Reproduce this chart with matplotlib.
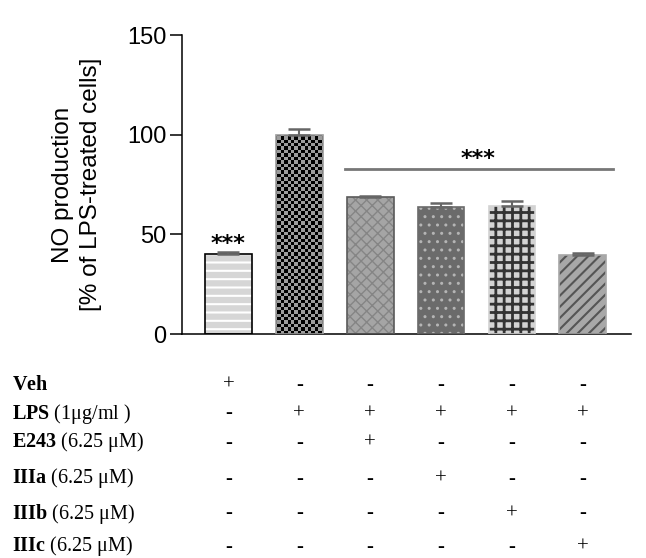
import numpy as np
import matplotlib
matplotlib.use("Agg")
from matplotlib import pyplot as plt
from matplotlib import transforms
from matplotlib.colors import ListedColormap

# values
groups = ["Veh", "LPS", "E243", "IIIa", "IIIb", "IIIc"]
no_prod = [40, 100, 68.8, 63.7, 64.0, 39.6]
err = [1.2, 3.0, 0.3, 1.8, 2.7, 1.1]
row_labels = [r"$\mathbf{Veh}$", r"$\mathbf{LPS}$ (1μg/ml )", r"$\mathbf{E243}$ (6.25 μM)",
              r"$\mathbf{IIIa}$ (6.25 μM)", r"$\mathbf{IIIb}$ (6.25 μM)", r"$\mathbf{IIIc}$ (6.25 μM)"]
signs = [["+", "-", "-", "-", "-", "-"],
         ["-", "+", "+", "+", "+", "+"],
         ["-", "-", "+", "-", "-", "-"],
         ["-", "-", "-", "+", "-", "-"],
         ["-", "-", "-", "-", "+", "-"],
         ["-", "-", "-", "-", "-", "+"]]

plt.rcParams["font.family"] = ["Liberation Sans", "DejaVu Sans"]
plt.rcParams["mathtext.fontset"] = "custom"
plt.rcParams["mathtext.bf"] = "Liberation Serif:bold"
plt.rcParams["mathtext.rm"] = "Liberation Serif"

fig = plt.figure(figsize=(6.46, 5.58), dpi=100)
ax = fig.add_axes([0.2817, 0.4014, 0.6950, 0.5358])
x = np.arange(len(groups))
ax.set_xlim(-0.656, 5.68)
ax.set_ylim(0, 150)

# bar styles: face, hatch, hatch colour, hatch width, outline
styles = [("#d6d6d6", "--", "white", 1.5, "black"),
          ("#9c9c9c", None, None, 1.0, "#9c9c9c"),
          ("#a5a5a5", "xxx", "#858585", 1.0, "#5a5a5a"),
          ("#6b6b6b", "..", "#b5b5b5", 1.0, "#6b6b6b"),
          ("#d3d3d3", "++", "#333333", 2.0, "#d3d3d3"),
          ("#a8a8a8", "///", "#555555", 1.5, "#a8a8a8")]

bars = []
for i, (fc, h, hc, hlw, ec) in enumerate(styles):
    plt.rcParams["hatch.linewidth"] = hlw
    b = ax.bar(x[i], no_prod[i], width=0.66, color=fc, hatch=h,
               edgecolor=hc if hc else fc, linewidth=0, zorder=2)[0]
    ax.bar(x[i], no_prod[i], width=0.66, fill=False, edgecolor=ec, linewidth=1.2, zorder=3)
    bars.append(b)

# checkerboard for LPS bar
ny, nx = 88, 132
chk = np.indices((ny, nx)).sum(axis=0) % 2
im = ax.imshow(chk, cmap=ListedColormap(["#9c9c9c", "#000000"]),
               extent=(*ax.get_xlim(), *ax.get_ylim()), aspect="auto",
               interpolation="nearest", zorder=2.5)
im.set_clip_path(bars[1])
ax.set_xlim(-0.656, 5.68)
ax.set_ylim(0, 150)

ax.errorbar(x, no_prod, yerr=[np.zeros(len(err)), err], fmt="none", ecolor="#666666",
            elinewidth=1.5, capsize=8, capthick=1.8, zorder=4)

# significance marks
ax.plot([x[2] - 0.36, x[5] + 0.42], [83, 83], color="#777777", lw=2, clip_on=False)
ax.text(3.52, 88, "***", ha="center", va="center", fontsize=16, fontweight="bold",
        family="DejaVu Sans")
ax.text(x[0], 45, "***", ha="center", va="center", fontsize=16, fontweight="bold",
        family="DejaVu Sans")

for s in ["top", "right"]:
    ax.spines[s].set_visible(False)
ax.spines["left"].set_linewidth(1.1)
ax.spines["bottom"].set_linewidth(1.1)
ax.set_xticks([])
ax.set_yticks([0, 50, 100, 150])
ax.tick_params(axis="y", length=9, width=1.1, labelsize=17, pad=2)
ax.set_ylabel("NO production\n[% of LPS-treated cells]", fontsize=17.5, linespacing=1.4,
              labelpad=18)

# treatment table under the chart
trans = transforms.blended_transform_factory(ax.transData, fig.transFigure)
baselines = [389.5, 418.5, 447.5, 483.5, 518.5, 551.5]
for r, lab in enumerate(row_labels):
    yb = 1 - baselines[r] / 558
    fig.text(12 / 646, yb, lab, fontsize=14.5, family="Liberation Serif", va="baseline")
    for c, s in enumerate(signs[r]):
        if s == "+":
            ax.text(x[c], yb, "+", transform=trans, ha="center", va="baseline",
                    fontsize=15, family="Liberation Serif", clip_on=False)
        else:
            ax.text(x[c], yb, "-", transform=trans, ha="center", va="baseline",
                    fontsize=15, family="Liberation Serif", fontweight="bold", clip_on=False)

fig.savefig("out.png", dpi=100)
